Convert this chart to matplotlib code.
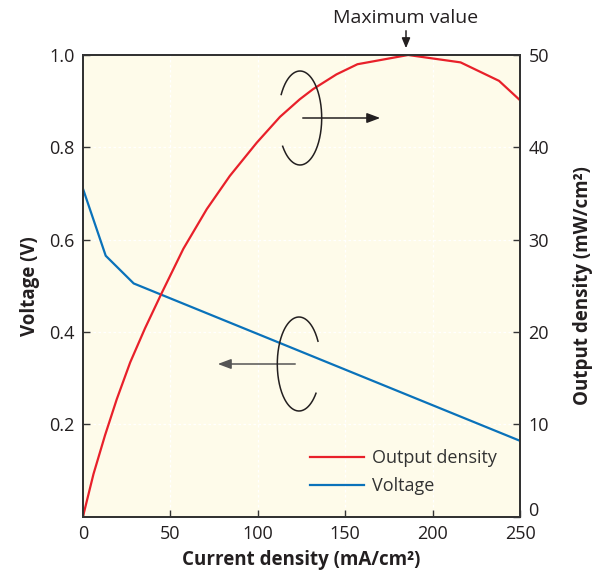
import numpy as np
import matplotlib
matplotlib.use("Agg")
import matplotlib.pyplot as plt
import matplotlib.transforms as mtransforms

plt.rcParams['font.family'] = ['Open Sans', 'DejaVu Sans']

# Data
current_v = [0, 13, 29, 250]
voltage = [0.710, 0.565, 0.505, 0.164]

current_p = [0, 6, 12.6, 19.3, 27, 35.5, 45, 57.4, 70.8, 84, 99.4, 112.7, 124, 131.6, 145, 157, 186, 216, 238, 250]
power = [0, 4.6, 8.8, 12.7, 16.7, 20.4, 24.2, 29.0, 33.3, 36.9, 40.5, 43.3, 45.2, 46.3, 47.9, 49.0, 50.0, 49.2, 47.2, 45.1]

xticks = [0, 50, 100, 150, 200, 250]
yticks_left = [0.2, 0.4, 0.6, 0.8, 1.0]
yticks_right = [0, 10, 20, 30, 40, 50]

RED = '#E8202A'
BLUE = '#0A72BA'
BG = '#FEFBEA'
TXT = '#231F20'
FS = 13

W, H = 599, 575
fig = plt.figure(figsize=(W / 100, H / 100), dpi=100)
L, R, T, B = 83, 520, 55, 516.5
ax = fig.add_axes([L / W, 1 - B / H, (R - L) / W, (B - T) / H])
ax2 = ax.twinx()

ax.set_facecolor(BG)
ax.set_xlim(0, 250)
ax.set_ylim(0, 1.0)
ax2.set_ylim(0, 50)

lp, = ax2.plot(current_p, power, color=RED, lw=1.6, label='Output density', solid_joinstyle='round')
lv, = ax.plot(current_v, voltage, color=BLUE, lw=1.6, label='Voltage', solid_joinstyle='round')

ax.set_xticks(xticks)
ax.set_yticks(yticks_left)
ax.set_yticklabels([f'{v:.1f}' for v in yticks_left])
ax2.set_yticks(yticks_right)
ax.grid(True, color='white', ls=(0, (2, 2)), lw=0.9)
ax.set_axisbelow(True)

for a in (ax, ax2):
    a.tick_params(direction='in', length=5, width=1, colors='#333333', labelcolor=TXT, labelsize=FS, pad=6)
    for s in a.spines.values():
        s.set_color('#333333')
        s.set_linewidth(1.4)

# nudge the right-axis "0" label up, as in the reference
fig.canvas.draw()
lab0 = ax2.get_yticklabels()[0]
lab0.set_transform(lab0.get_transform() + mtransforms.ScaledTranslation(0, 7 / 100, fig.dpi_scale_trans))

ax.set_xlabel('Current density (mA/cm²)', fontsize=13.5, fontweight='bold', color=TXT, labelpad=5)
ax.set_ylabel('Voltage (V)', fontsize=13.5, fontweight='bold', color=TXT, labelpad=6.5)
ax2.set_ylabel('Output density (mW/cm²)', fontsize=13.5, fontweight='bold', color=TXT, labelpad=17)

leg = ax2.legend(handles=[lp, lv], loc='lower right', frameon=False, fontsize=FS,
                 handlelength=3.0, labelcolor='#333333', bbox_to_anchor=(0.985, 0.011),
                 labelspacing=0.55, handletextpad=0.45)

# annotations in pixel space -> figure fraction
def fx(px):
    return px / W

def fy(py):
    return 1 - py / H

def arc_line(cx, cy, a, b, t1, t2):
    t = np.radians(np.linspace(t1, t2, 200))
    xs = cx + a * np.cos(t)
    ys = cy - b * np.sin(t)
    fig.add_artist(plt.Line2D([fx(x) for x in xs], [fy(y) for y in ys], color='#231F20', lw=1.1,
                              transform=fig.transFigure, zorder=5))

arc_line(300, 118, 21.7, 47, -143, 150)
arc_line(299, 364, 21.7, 47, 29, 321.5)

ax.annotate('', xy=(fx(383), fy(118)), xytext=(fx(300), fy(118)), xycoords='figure fraction',
            textcoords='figure fraction',
            arrowprops=dict(arrowstyle='-|>,head_length=0.8,head_width=0.3', color='#231F20', lw=1.1))
ax.annotate('', xy=(fx(215), fy(364)), xytext=(fx(298), fy(364)), xycoords='figure fraction',
            textcoords='figure fraction',
            arrowprops=dict(arrowstyle='-|>,head_length=0.8,head_width=0.3', color='#555555', lw=1.1))

fig.text(fx(406), fy(18), 'Maximum value', ha='center', va='center', fontsize=14, color=TXT)
ax.annotate('', xy=(fx(406), fy(51)), xytext=(fx(406), fy(28)), xycoords='figure fraction',
            textcoords='figure fraction',
            arrowprops=dict(arrowstyle='-|>,head_length=0.6,head_width=0.25', color='#231F20', lw=1.1))

fig.savefig('out.png', dpi=100, facecolor='white')
